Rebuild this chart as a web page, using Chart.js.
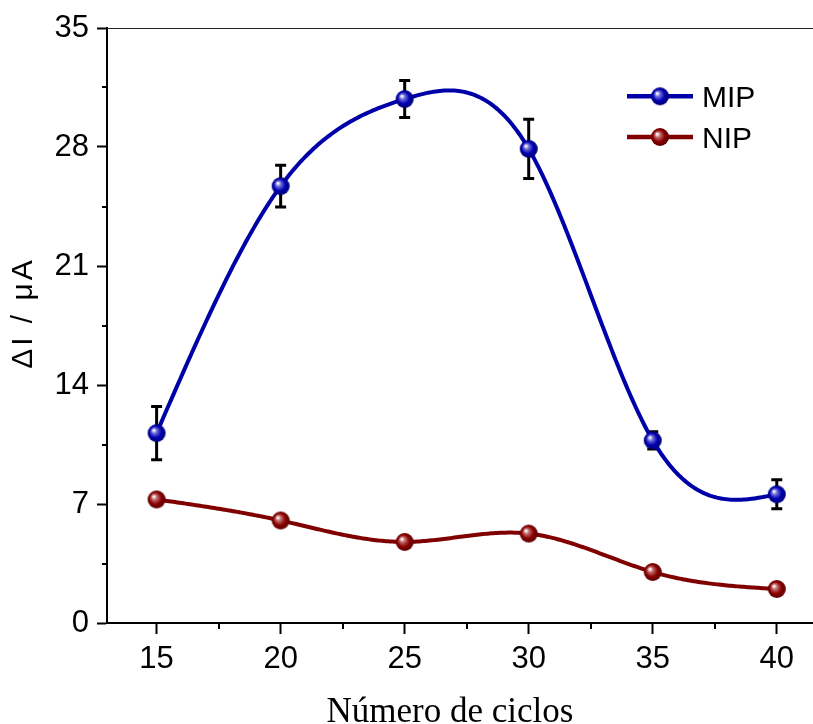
<!DOCTYPE html>
<html><head><meta charset="utf-8">
<script src="https://cdn.jsdelivr.net/npm/chart.js@4/dist/chart.umd.min.js"></script>
<style>html,body{margin:0;padding:0;background:#fff}</style>
</head><body>
<canvas id="c" width="813" height="724"></canvas>
<script>
const cycles = [15, 20, 25, 30, 35, 40];
const mipValues = [11.17, 25.7, 30.82, 27.89, 10.74, 7.57];
const mipErrors = [1.57, 1.23, 1.09, 1.74, 0.51, 0.85];
const nipValues = [7.27, 6.03, 4.77, 5.26, 3.0, 2.0];
const xTickValues = [15, 20, 25, 30, 35, 40];
const xMinorTicks = [17.5, 22.5, 27.5, 32.5, 37.5];
const yTickValues = [0, 7, 14, 21, 28, 35];
const yMinorTicks = [3.5, 10.5, 17.5, 24.5, 31.5];
const seriesNames = ['MIP', 'NIP'];
const xTitle = 'Número de ciclos';
const yTitle = 'ΔI / μA';

function makeBall(light, mid, base, dark) {
  const c = document.createElement('canvas');
  c.width = 20; c.height = 20;
  const g = c.getContext('2d');
  const grad = g.createRadialGradient(7, 7, 0.5, 10, 10, 9.5);
  grad.addColorStop(0, light);
  grad.addColorStop(0.25, mid);
  grad.addColorStop(0.6, base);
  grad.addColorStop(1, dark);
  g.fillStyle = grad;
  g.beginPath(); g.arc(10, 10, 9, 0, Math.PI * 2); g.fill();
  return c;
}
const blueBall = makeBall('#ffffff', '#6a6ad8', '#0000b4', '#00006a');
const redBall = makeBall('#ffffff', '#c06a6a', '#8c0000', '#520000');

function naturalSpline(xs, ys) {
  const n = xs.length;
  const h = [], al = [], l = [1], mu = [0], z = [0], c = new Array(n).fill(0);
  for (let i = 0; i < n - 1; i++) h.push(xs[i + 1] - xs[i]);
  for (let i = 1; i < n - 1; i++) al[i] = 3 / h[i] * (ys[i + 1] - ys[i]) - 3 / h[i - 1] * (ys[i] - ys[i - 1]);
  for (let i = 1; i < n - 1; i++) {
    l[i] = 2 * (xs[i + 1] - xs[i - 1]) - h[i - 1] * mu[i - 1];
    mu[i] = h[i] / l[i];
    z[i] = (al[i] - h[i - 1] * z[i - 1]) / l[i];
  }
  l[n - 1] = 1; z[n - 1] = 0;
  const b = [], d = [];
  for (let j = n - 2; j >= 0; j--) {
    c[j] = z[j] - mu[j] * c[j + 1];
    b[j] = (ys[j + 1] - ys[j]) / h[j] - h[j] * (c[j + 1] + 2 * c[j]) / 3;
    d[j] = (c[j + 1] - c[j]) / (3 * h[j]);
  }
  return function (x) {
    let j = 0;
    while (j < n - 2 && x > xs[j + 1]) j++;
    const t = x - xs[j];
    return ys[j] + b[j] * t + c[j] * t * t + d[j] * t * t * t;
  };
}

const decor = {
  id: 'decor',
  beforeDatasetsDraw(chart) {
    const { ctx, scales: { x, y } } = chart;
    ctx.save();
    // error bars (MIP)
    ctx.strokeStyle = '#000';
    ctx.lineWidth = 3;
    cycles.forEach((c, i) => {
      const px = x.getPixelForValue(c);
      const t = y.getPixelForValue(mipValues[i] + mipErrors[i]);
      const bt = y.getPixelForValue(mipValues[i] - mipErrors[i]);
      ctx.beginPath();
      ctx.moveTo(px, t); ctx.lineTo(px, bt);
      ctx.moveTo(px - 5.5, t); ctx.lineTo(px + 5.5, t);
      ctx.moveTo(px - 5.5, bt); ctx.lineTo(px + 5.5, bt);
      ctx.stroke();
    });
    // spline connecting lines
    chart.data.datasets.forEach(ds => {
      const xs = ds.data.map(p => p.x), ys = ds.data.map(p => p.y);
      const f = naturalSpline(xs, ys);
      ctx.strokeStyle = ds.borderColor;
      ctx.lineWidth = ds.borderWidth;
      ctx.lineJoin = 'round';
      ctx.beginPath();
      const x0 = xs[0], x1 = xs[xs.length - 1];
      const steps = 300;
      for (let k = 0; k <= steps; k++) {
        const xv = x0 + (x1 - x0) * k / steps;
        const px = x.getPixelForValue(xv), py = y.getPixelForValue(f(xv));
        if (k === 0) ctx.moveTo(px, py); else ctx.lineTo(px, py);
      }
      ctx.stroke();
    });
    ctx.restore();
  },
  afterDraw(chart) {
    const { ctx, chartArea: a, scales: { x, y } } = chart;
    ctx.save();
    // top frame line
    ctx.strokeStyle = '#222';
    ctx.lineWidth = 1;
    ctx.beginPath(); ctx.moveTo(a.left, a.top + 0.5); ctx.lineTo(a.right, a.top + 0.5); ctx.stroke();
    // minor ticks
    ctx.strokeStyle = '#000';
    ctx.lineWidth = 2;
    xMinorTicks.forEach(v => {
      const px = Math.round(x.getPixelForValue(v));
      ctx.beginPath(); ctx.moveTo(px, a.bottom); ctx.lineTo(px, a.bottom + 6); ctx.stroke();
    });
    yMinorTicks.forEach(v => {
      const py = Math.round(y.getPixelForValue(v));
      ctx.beginPath(); ctx.moveTo(a.left, py); ctx.lineTo(a.left - 5, py); ctx.stroke();
    });
    // axis titles
    ctx.fillStyle = '#000';
    ctx.font = '35px "Liberation Serif", "Times New Roman", serif';
    ctx.textAlign = 'center';
    ctx.textBaseline = 'alphabetic';
    ctx.fillText(xTitle, 450, 722);
    ctx.save();
    ctx.font = '30px "Liberation Sans", Arial, sans-serif';
    ctx.letterSpacing = '3px';
    const w = ctx.measureText(yTitle).width - 3;
    ctx.translate(32, 314.5 + w / 2);
    ctx.rotate(-Math.PI / 2);
    ctx.textAlign = 'left';
    ctx.fillText(yTitle, 0, 0);
    ctx.restore();
    // legend
    chart.data.datasets.forEach((ds, i) => {
      const ly = a.top + 68.3 + i * 40.7;
      const lx = a.right - 186;
      ctx.strokeStyle = ds.borderColor;
      ctx.lineWidth = 4.5;
      ctx.beginPath(); ctx.moveTo(lx, ly); ctx.lineTo(lx + 66, ly); ctx.stroke();
      ctx.drawImage(ds.pointStyle, lx + 33 - 10, ly - 10);
      ctx.fillStyle = '#000';
      ctx.font = '30px "Liberation Sans", Arial, sans-serif';
      ctx.textBaseline = 'alphabetic';
      ctx.textAlign = 'left';
      ctx.fillText(ds.label, lx + 75, ly + 10.8);
    });
    ctx.restore();
  }
};

const tickFont = { family: '"Liberation Sans", Arial, sans-serif', size: 31 };

new Chart(document.getElementById('c'), {
  type: 'line',
  data: {
    datasets: [
      {
        label: seriesNames[0],
        data: cycles.map((c, i) => ({ x: c, y: mipValues[i] })),
        borderColor: '#0000a8',
        borderWidth: 4,
        showLine: false,
        pointStyle: blueBall,
        pointRadius: 9,
        clip: false
      },
      {
        label: seriesNames[1],
        data: cycles.map((c, i) => ({ x: c, y: nipValues[i] })),
        borderColor: '#800000',
        borderWidth: 4,
        showLine: false,
        pointStyle: redBall,
        pointRadius: 9,
        clip: false
      }
    ]
  },
  options: {
    responsive: false,
    animation: false,
    devicePixelRatio: 1,
    layout: { autoPadding: false, padding: { top: 28, right: 0, bottom: 0, left: 0 } },
    plugins: { legend: { display: false }, tooltip: { enabled: false } },
    scales: {
      x: {
        type: 'linear',
        min: 13,
        max: 41.46,
        afterBuildTicks: s => { s.ticks = xTickValues.map(v => ({ value: v })); },
        afterFit: s => { s.height = 101; s.paddingRight = 0; s.paddingLeft = 0; },
        ticks: { font: tickFont, color: '#000', padding: 7, maxRotation: 0, autoSkip: false },
        grid: { drawOnChartArea: false, drawTicks: true, tickLength: 11, tickWidth: 2, tickColor: '#000' },
        border: { display: true, color: '#000', width: 2 },
        title: { display: false, text: xTitle }
      },
      y: {
        type: 'linear',
        min: 0,
        max: 35,
        afterBuildTicks: s => { s.ticks = yTickValues.map(v => ({ value: v })); },
        afterFit: s => { s.width = 107; },
        ticks: { font: tickFont, color: '#000', padding: 8 },
        grid: { drawOnChartArea: false, drawTicks: true, tickLength: 10, tickWidth: 2, tickColor: '#000' },
        border: { display: true, color: '#000', width: 2 },
        title: { display: false, text: yTitle }
      }
    }
  },
  plugins: [decor]
});
</script>
</body></html>
